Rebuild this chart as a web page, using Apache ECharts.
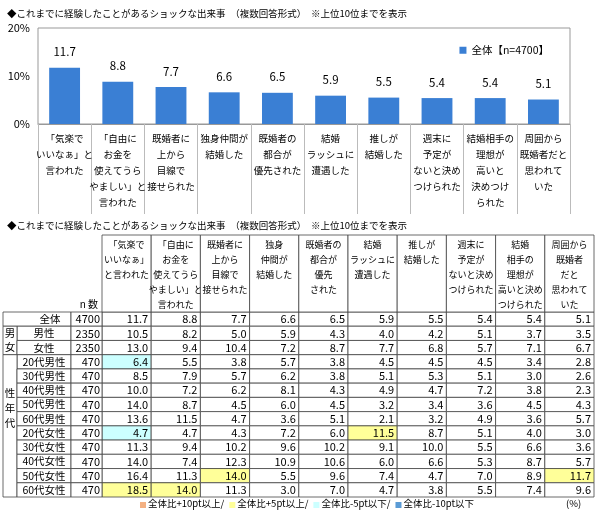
<!DOCTYPE html>
<html><head><meta charset="utf-8">
<script src="https://cdn.jsdelivr.net/npm/echarts@6/dist/echarts.min.js"></script>
<style>html,body{margin:0;padding:0;background:#fff}#c{width:599px;height:513px}</style>
</head><body><div id="c"></div>
<script>
var FONT = '"Noto Sans CJK JP","Noto Sans",sans-serif';
var categories = ['「気楽で\nいいなぁ」と\n言われた','「自由に\nお金を\n使えてうら\nやましい」と\n言われた','既婚者に\n上から\n目線で\n接せられた','独身仲間が\n結婚した','既婚者の\n都合が\n優先された','結婚\nラッシュに\n遭遇した','推しが\n結婚した','週末に\n予定が\nないと決め\nつけられた','結婚相手の\n理想が\n高いと\n決めつけ\nられた','周囲から\n既婚者だと\n思われて\nいた'];
var headers = ['「気楽で\nいいなぁ」\nと言われた','「自由に\nお金を\n使えてうら\nやましい」と\n言われた','既婚者に\n上から\n目線で\n接せられた','独身\n仲間が\n結婚した','既婚者の\n都合が\n優先\nされた','結婚\nラッシュに\n遭遇した','推しが\n結婚した','週末に\n予定が\nないと決め\nつけられた','結婚\n相手の\n理想が\n高いと決め\nつけられた','周囲から\n既婚者\nだと\n思われて\nいた'];
var totalValues = [11.7,8.8,7.7,6.6,6.5,5.9,5.5,5.4,5.4,5.1];
var rowLabels = ['全体','男性','女性','20代男性','30代男性','40代男性','50代男性','60代男性','20代女性','30代女性','40代女性','50代女性','60代女性'];
var rowN = [4700,2350,2350,470,470,470,470,470,470,470,470,470,470];
var rows = [
 [11.7,8.8,7.7,6.6,6.5,5.9,5.5,5.4,5.4,5.1],
 [10.5,8.2,5.0,5.9,4.3,4.0,4.2,5.1,3.7,3.5],
 [13.0,9.4,10.4,7.2,8.7,7.7,6.8,5.7,7.1,6.7],
 [6.4,5.5,3.8,5.7,3.8,4.5,4.5,4.5,3.4,2.8],
 [8.5,7.9,5.7,6.2,3.8,5.1,5.3,5.1,3.0,2.6],
 [10.0,7.2,6.2,8.1,4.3,4.9,4.7,7.2,3.8,2.3],
 [14.0,8.7,4.5,6.0,4.5,3.2,3.4,3.6,4.5,4.3],
 [13.6,11.5,4.7,3.6,5.1,2.1,3.2,4.9,3.6,5.7],
 [4.7,4.7,4.3,7.2,6.0,11.5,8.7,5.1,4.0,3.0],
 [11.3,9.4,10.2,9.6,10.2,9.1,10.0,5.5,6.6,3.6],
 [14.0,7.4,12.3,10.9,10.6,6.0,6.6,5.3,8.7,5.7],
 [16.4,11.3,14.0,5.5,9.6,7.4,4.7,7.0,8.9,11.7],
 [18.5,14.0,11.3,3.0,7.0,4.7,3.8,5.5,7.4,9.6]
];
var legendItems = [['全体比+10pt以上/','#F4B183'],['全体比+5pt以上/','#FFFF99'],['全体比-5pt以下/','#CCFFFF'],['全体比-10pt以下','#5B9BD5']];

function cellColor(r,c){
  if(r<3) return '#fff';
  var d = rows[r][c]-rows[0][c];
  if(d>=10) return '#F4B183';
  if(d>=5) return '#FFFF99';
  if(d<=-10) return '#5B9BD5';
  if(d<=-5) return '#CCFFFF';
  return '#fff';
}
var cellData=[];
rows.forEach(function(row,r){row.forEach(function(v,c){cellData.push([c,r,v]);});});
var headerData = headers.map(function(h,c){return [c,0];});
var leftData = rowLabels.map(function(l,r){return [0,r];});
var LINE='#444';
var mctx=document.createElement('canvas').getContext('2d');
function tw(t,fs){mctx.font=fs+'px '+FONT;return mctx.measureText(t).width;}
var chart = echarts.init(document.getElementById('c'));
chart.setOption({
  animation:false,
  textStyle:{fontFamily:FONT},
  title:[{text:'◆これまでに経験したことがあるショックな出来事　（複数回答形式）　※上位10位までを表示',left:2,top:4,textStyle:{fontSize:9.5,fontWeight:'normal',color:'#000',fontFamily:FONT}},
         {text:'◆これまでに経験したことがあるショックな出来事　（複数回答形式）　※上位10位までを表示',left:2,top:216,textStyle:{fontSize:9.5,fontWeight:'normal',color:'#000',fontFamily:FONT}}],
  legend:{data:['全体【n=4700】'],right:45,top:40,itemWidth:7,itemHeight:7,itemGap:3,icon:'rect',textStyle:{fontSize:10.5,fontFamily:FONT,color:'#000'}},
  grid:[{left:38,right:29,top:28,height:96,show:true,borderColor:'#999',borderWidth:1},
        {left:102,right:5,top:312,height:185}],
  xAxis:[{type:'category',gridIndex:0,data:categories,axisLine:{lineStyle:{color:'#999'}},
          axisTick:{show:true,length:90,lineStyle:{color:'#bbb'}},
          axisLabel:{interval:0,fontSize:9.5,color:'#000',lineHeight:16,fontFamily:FONT,margin:6}},
         {type:'value',gridIndex:1,min:0,max:10,show:false}],
  yAxis:[{type:'value',gridIndex:0,min:0,max:20,interval:10,splitLine:{show:false},
          axisLabel:{formatter:'{value}%',fontSize:11,color:'#000'},axisLine:{show:false}},
         {type:'value',gridIndex:1,min:0,max:13,inverse:true,show:false}],
  series:[
   {name:'全体【n=4700】',type:'bar',data:totalValues,barWidth:'58%',itemStyle:{color:'#3A7FD4'},
    label:{show:true,position:'top',distance:10,fontSize:11.5,color:'#000',formatter:function(p){return p.value.toFixed(1);}}},
   {type:'custom',xAxisIndex:1,yAxisIndex:1,data:cellData,renderItem:function(params,api){
      var c=api.value(0),r=api.value(1),v=rows[r][c];
      var p0=api.coord([c,r]),p1=api.coord([c+1,r+1]);
      return {type:'group',children:[
        {type:'rect',shape:{x:p0[0],y:p0[1],width:p1[0]-p0[0],height:p1[1]-p0[1]},style:{fill:cellColor(r,c),stroke:LINE,lineWidth:0.8}},
        {type:'text',style:{x:p1[0]-3,y:(p0[1]+p1[1])/2,text:v.toFixed(1),align:'right',verticalAlign:'middle',fontSize:11,fill:'#000',fontFamily:FONT}}
      ]};
   }},
   {type:'custom',xAxisIndex:1,yAxisIndex:1,data:headerData,renderItem:function(params,api){
      var c=api.value(0),p0=api.coord([c,0]),p1=api.coord([c+1,0]);
      return {type:'group',children:[
        {type:'rect',shape:{x:p0[0],y:235,width:p1[0]-p0[0],height:p0[1]-235},style:{fill:'#fff',stroke:LINE,lineWidth:0.8}},
        {type:'text',style:{x:(p0[0]+p1[0])/2,y:237,text:headers[c],align:'center',verticalAlign:'top',fontSize:9,lineHeight:15,fill:'#000',fontFamily:FONT}}
      ]};
   }},
   {type:'custom',xAxisIndex:1,yAxisIndex:1,data:leftData,renderItem:function(params,api){
      var r=api.value(1),p0=api.coord([0,r]),p1=api.coord([0,r+1]);
      var y0=p0[1],h=p1[1]-p0[1],ym=y0+h/2;
      var ch=[];
      var labX0 = r===0?3:17;
      ch.push({type:'rect',shape:{x:labX0,y:y0,width:71-labX0,height:h},style:{fill:'#fff',stroke:LINE,lineWidth:0.8}});
      ch.push({type:'rect',shape:{x:71,y:y0,width:31,height:h},style:{fill:'#fff',stroke:LINE,lineWidth:0.8}});
      ch.push({type:'text',style:{x:r===0?50:44,y:ym,text:rowLabels[r],align:'center',verticalAlign:'middle',fontSize:10.5,fill:'#000',fontFamily:FONT}});
      ch.push({type:'text',style:{x:100,y:ym,text:String(rowN[r]),align:'right',verticalAlign:'middle',fontSize:11,fill:'#000',fontFamily:FONT}});
      if(r===1){
        ch.push({type:'rect',shape:{x:3,y:y0,width:14,height:h*2},style:{fill:'#fff',stroke:LINE,lineWidth:0.8}});
        ch.push({type:'text',style:{x:10,y:y0+h,text:'男\n女',align:'center',verticalAlign:'middle',fontSize:10.5,lineHeight:14,fill:'#000',fontFamily:FONT}});
      }
      if(r===3){
        ch.push({type:'rect',shape:{x:3,y:y0,width:14,height:h*10},style:{fill:'#fff',stroke:LINE,lineWidth:0.8}});
        ch.push({type:'text',style:{x:10,y:y0+h*2.2,text:'性\n年\n代',align:'center',verticalAlign:'top',fontSize:10.5,lineHeight:15,fill:'#000',fontFamily:FONT}});
      }
      if(r===12){
        ch.push({type:'text',style:{x:98,y:y0-h*12-3,text:'n 数',align:'right',verticalAlign:'bottom',fontSize:10,fill:'#000',fontFamily:FONT}});
      }
      return {type:'group',children:ch};
   }}
  ],
  graphic:(function(){
    var g=[],x=140;
    legendItems.forEach(function(it){
      g.push({type:'rect',left:x,top:502,shape:{width:6,height:6},style:{fill:it[1]}});
      g.push({type:'text',left:x+8,top:499,style:{text:it[0],fontSize:9.5,fill:'#000',fontFamily:FONT}});
      x+=8+tw(it[0],9.5)+5;
    });
    g.push({type:'text',left:566,top:499,style:{text:'(%)',fontSize:9.5,fill:'#000',fontFamily:FONT}});
    return g;
  })()
});
</script></body></html>
